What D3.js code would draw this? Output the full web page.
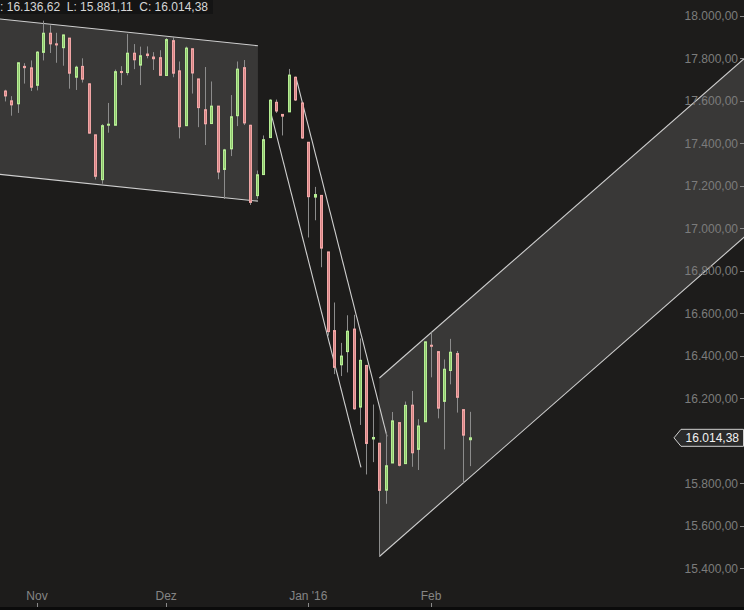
<!DOCTYPE html>
<html><head><meta charset="utf-8">
<script src="https://cdn.jsdelivr.net/npm/d3@7"></script>
<style>html,body{margin:0;padding:0;background:#1d1c1b;overflow:hidden}</style>
</head><body><svg id="c" width="744" height="610"></svg>
<script>
// ---- data (DJIA daily, Oct 26 2015 – Feb 9 2016) ----
const dates = ["2015-10-26","2015-10-27","2015-10-28","2015-10-29","2015-10-30","2015-11-02","2015-11-03","2015-11-04","2015-11-05","2015-11-06","2015-11-09","2015-11-10","2015-11-11","2015-11-12","2015-11-13","2015-11-16","2015-11-17","2015-11-18","2015-11-19","2015-11-20","2015-11-23","2015-11-24","2015-11-25","2015-11-27","2015-11-30","2015-12-01","2015-12-02","2015-12-03","2015-12-04","2015-12-07","2015-12-08","2015-12-09","2015-12-10","2015-12-11","2015-12-14","2015-12-15","2015-12-16","2015-12-17","2015-12-18","2015-12-21","2015-12-22","2015-12-23","2015-12-24","2015-12-28","2015-12-29","2015-12-30","2015-12-31","2016-01-04","2016-01-05","2016-01-06","2016-01-07","2016-01-08","2016-01-11","2016-01-12","2016-01-13","2016-01-14","2016-01-15","2016-01-19","2016-01-20","2016-01-21","2016-01-22","2016-01-25","2016-01-26","2016-01-27","2016-01-28","2016-01-29","2016-02-01","2016-02-02","2016-02-03","2016-02-04","2016-02-05","2016-02-08","2016-02-09"];
const open  = [17646,17600,17586,17762,17755,17673,17828,17918,17868,17850,17895,17711,17762,17680,17440,17229,17486,17485,17738,17733,17824,17768,17820,17806,17803,17719,17883,17741,17483,17845,17703,17558,17493,17575,17277,17374,17530,17756,17485,17154,17253,17427,17593,17536,17548,17711,17590,17405,17147,17155,16889,16519,16358,16420,16526,16159,16355,16009,15989,15768,15896,16086,15893,16168,15960,16090,16450,16420,16186,16331,16411,16147,16005.41];
const high  = [17652,17622,17780,17777,17790,17834,17977,17955,17920,17911,17895,17765,17800,17682,17440,17490,17590,17747,17763,17914,17867,17855,17856,17829,17838,17895,17901,17785,17855,17845,17703,17759,17691,17575,17374,17627,17785,17792,17487,17272,17437,17607,17606,17536,17750,17714,17590,17405,17195,17155,16889,16651,16461,16591,16593,16482,16355,16171,15989,16038,16136,16086,16185,16235,16102,16466,16510,16420,16383,16480,16423,16147,16136.62];
const low   = [17597,17530,17543,17681,17646,17649,17790,17825,17779,17765,17657,17651,17686,17446,17230,17210,17450,17485,17674,17720,17749,17674,17800,17745,17720,17719,17711,17423,17483,17634,17476,17392,17493,17231,17138,17340,17481,17486,17110,17139,17253,17427,17543,17437,17548,17599,17421,16957,17038,16817,16495,16314,16305,16322,16147,16075,15842,15900,15455,15704,15896,15880,15893,15878,15863,16090,16299,16106,15960,16266,16133,15803,15881.11];
const close = [17623,17581,17779,17756,17664,17829,17918,17868,17863,17910,17730,17758,17702,17448,17245,17483,17490,17737,17733,17824,17793,17812,17813,17798,17720,17888,17730,17478,17848,17731,17568,17492,17575,17265,17369,17525,17749,17496,17122,17252,17417,17603,17552,17528,17721,17604,17425,17149,17159,16907,16514,16346,16399,16516,16151,16379,15988,16016,15767,15883,16094,15885,16167,15944,16070,16466,16449,16154,16337,16417,16205,16027,16014.38];

const yTicks = [18000,17800,17600,17400,17200,17000,16800,16600,16400,16200,15800,15600,15400];
const monthTicks = ["2015-11-02","2015-12-01","2016-01-04","2016-02-01"];
const monthLabels = ["Nov","Dez","Jan '16","Feb"];
const headerText = ": 16.136,62  L: 15.881,11  C: 16.014,38";
const lastPrice = 16014.38;

// channels: [trading-day index, price]
const leftChannelTop    = [[-1, 17986], [39.2, 17859]];
const leftChannelBottom = [[-1, 17255], [39.2, 17128]];
const downLineA = [[41.3, 17532], [55.15, 15875]];
const downLineB = [[45.17, 17701], [59.18, 16021]];
const upChannelTop    = [[58, 16296], [115, 17812.7]];
const upChannelBottom = [[58, 15456], [115, 16972.7]];

// ---- scales ----
const W = 744, H = 610;
const x = d3.scaleLinear().domain([0, dates.length - 1]).range([4.7, 469.8]);
const y = d3.scaleLinear().domain([15400, 18000]).range([568.4, 15.8]);
const fmt = v => d3.format(",.2f")(v).replace(/,/g, "#").replace(".", ",").replace(/#/g, ".");

const svg = d3.select("#c");
svg.append("rect").attr("width", W).attr("height", H).attr("fill", "#1d1c1b");
const clip = svg.append("defs").append("clipPath").attr("id", "pc");
clip.append("rect").attr("x", 0).attr("y", 0).attr("width", W).attr("height", 607);
const g = svg.append("g").attr("clip-path", "url(#pc)");

const pt = d => [x(d[0]), y(d[1])];
function channel(top, bot) {
  const pts = [pt(top[0]), pt(top[1]), pt(bot[1]), pt(bot[0])];
  g.append("polygon").attr("points", pts.map(p => p.join(",")).join(" "))
    .attr("fill", "#ffffff").attr("fill-opacity", 0.125);
  [top, bot].forEach(l => g.append("line")
    .attr("x1", pt(l[0])[0]).attr("y1", pt(l[0])[1])
    .attr("x2", pt(l[1])[0]).attr("y2", pt(l[1])[1])
    .attr("stroke", "#cfcfcf").attr("stroke-width", 1.1));
}
channel(leftChannelTop, leftChannelBottom);
channel(upChannelTop, upChannelBottom);
[downLineA, downLineB].forEach(l => g.append("line")
  .attr("x1", pt(l[0])[0]).attr("y1", pt(l[0])[1])
  .attr("x2", pt(l[1])[0]).attr("y2", pt(l[1])[1])
  .attr("stroke", "#cfcfcf").attr("stroke-width", 1.1));

// ---- candles ----
const idx = d3.range(dates.length);
const cg = g.append("g");
cg.selectAll("line.w").data(idx).join("line")
  .attr("x1", i => Math.round(x(i)) + 0.5).attr("x2", i => Math.round(x(i)) + 0.5)
  .attr("y1", i => y(high[i])).attr("y2", i => y(low[i]))
  .attr("stroke", "#8c8c8c").attr("stroke-width", 1);
cg.selectAll("rect.b").data(idx).join("rect")
  .attr("x", i => Math.round(x(i)) - 0.5)
  .attr("width", 2)
  .attr("y", i => y(Math.max(open[i], close[i])))
  .attr("height", i => Math.max(1, Math.abs(y(open[i]) - y(close[i]))))
  .attr("fill", i => close[i] >= open[i] ? "#8fc46f" : "#d58484")
  .attr("stroke", i => close[i] >= open[i] ? "#b6ee93" : "#f2a6a6")
  .attr("stroke-width", 1);

// ---- y axis (right, inside) ----
const ya = svg.append("g");
yTicks.forEach(t => {
  ya.append("text").attr("x", 738).attr("y", y(t)).attr("dy", "0.35em")
    .attr("text-anchor", "end").attr("font-family", "Liberation Sans, Arial, sans-serif")
    .attr("font-size", 12).attr("fill", "#7c7c7c").text(fmt(t));
  ya.append("line").attr("x1", 740).attr("x2", 744).attr("y1", Math.round(y(t)) + 0.5).attr("y2", Math.round(y(t)) + 0.5)
    .attr("stroke", "#8a8a8a");
});

// ---- x axis ----
monthTicks.forEach((d, k) => {
  const xi = x(dates.indexOf(d));
  svg.append("text").attr("x", xi).attr("y", 600).attr("text-anchor", "middle")
    .attr("font-family", "Liberation Sans, Arial, sans-serif").attr("font-size", 12)
    .attr("fill", "#858585").text(monthLabels[k]);
  svg.append("line").attr("x1", Math.round(xi) + 0.5).attr("x2", Math.round(xi) + 0.5)
    .attr("y1", 603).attr("y2", 607).attr("stroke", "#8a8a8a");
});
svg.append("rect").attr("x", 0).attr("y", 607).attr("width", W).attr("height", 3).attr("fill", "#0b0b0b");

// ---- last price marker ----
const ly = y(lastPrice);
svg.append("path")
  .attr("d", `M674,${ly} L681,${ly - 8.5} L743.5,${ly - 8.5} L743.5,${ly + 8.5} L681,${ly + 8.5} Z`)
  .attr("fill", "#2a2a2a").attr("stroke", "#d0d0d0").attr("stroke-width", 1);
svg.append("text").attr("x", 739).attr("y", ly).attr("dy", "0.36em").attr("text-anchor", "end")
  .attr("font-family", "Liberation Sans, Arial, sans-serif").attr("font-size", 12)
  .attr("fill", "#f2f2f2").text(fmt(lastPrice));

// ---- header ----
svg.append("rect").attr("x", 0).attr("y", 0).attr("width", 213).attr("height", 14).attr("fill", "#141414");
svg.append("text").attr("x", 208).attr("y", 11).attr("text-anchor", "end")
  .attr("font-family", "Liberation Sans, Arial, sans-serif").attr("font-size", 12)
  .attr("fill", "#d6d6d6").attr("xml:space", "preserve").style("white-space", "pre").text(headerText);
</script></body></html>
